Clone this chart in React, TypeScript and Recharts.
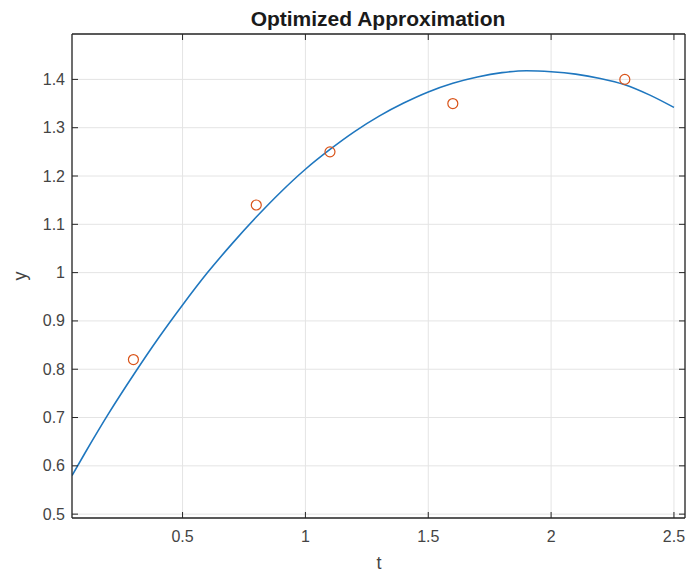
import { CartesianGrid, ComposedChart, Line, Scatter, XAxis, YAxis } from 'recharts';

// fitted curve
const curveT = [0.05, 0.1, 0.2, 0.3, 0.4, 0.5, 0.6, 0.7, 0.8, 0.9, 1.0, 1.1, 1.2, 1.3, 1.4, 1.5, 1.6, 1.7, 1.8, 1.9, 2.0, 2.1, 2.2, 2.3, 2.4, 2.5];
const curveY = [0.58, 0.624, 0.709, 0.788, 0.863, 0.933, 0.999, 1.059, 1.115, 1.167, 1.214, 1.255, 1.292, 1.324, 1.351, 1.374, 1.392, 1.405, 1.414, 1.418, 1.416, 1.411, 1.402, 1.389, 1.368, 1.342];

// measured samples
const sampleT = [0.3, 0.8, 1.1, 1.6, 2.3];
const sampleY = [0.82, 1.14, 1.25, 1.35, 1.4];

const xTicks = [0.5, 1, 1.5, 2, 2.5];
const yTicks = [0.5, 0.6, 0.7, 0.8, 0.9, 1, 1.1, 1.2, 1.3, 1.4];

const curveData = curveT.map((t, i) => ({ t, y: curveY[i] }));
const sampleData = sampleT.map((t, i) => ({ t, y: sampleY[i] }));

const FONT = '"Liberation Sans", Arial, sans-serif';
const AXIS = '#262626';
const LABEL = '#444';
const TICK_LEN = 6;

function BottomTick({ x, y, payload }: any) {
  return (
    <g>
      <line x1={x} x2={x} y1={y} y2={y - TICK_LEN} stroke={AXIS} />
      <text x={x} y={y + 24} textAnchor="middle" fontSize={16} fontFamily={FONT} fill={LABEL}>
        {payload.value}
      </text>
    </g>
  );
}

function TopTick({ x, y }: any) {
  return <line x1={x} x2={x} y1={y} y2={y + TICK_LEN} stroke={AXIS} />;
}

function LeftTick({ x, y, payload }: any) {
  return (
    <g>
      <line x1={x} x2={x + TICK_LEN} y1={y} y2={y} stroke={AXIS} />
      <text x={x - 7} y={y + 5.5} textAnchor="end" fontSize={16} fontFamily={FONT} fill={LABEL}>
        {payload.value}
      </text>
    </g>
  );
}

function RightTick({ x, y }: any) {
  return <line x1={x} x2={x - TICK_LEN} y1={y} y2={y} stroke={AXIS} />;
}

function Circle({ cx, cy }: any) {
  return <circle cx={cx} cy={cy} r={5} fill="none" stroke="#D95319" strokeWidth={1.2} />;
}

export default function App() {
  const xDomain = [0.05, 2.545];
  const yDomain = [0.492, 1.494];

  return (
    <div style={{ position: 'absolute', left: 0, top: 0, width: 691, height: 573, background: '#fff' }}>
      <ComposedChart width={691} height={573} margin={{ top: 0, right: 0, bottom: 0, left: 0 }}>
        <CartesianGrid stroke="#e4e4e4" strokeWidth={1} />
        <XAxis
          dataKey="t"
          type="number"
          domain={xDomain}
          ticks={xTicks}
          allowDataOverflow
          height={55}
          tickSize={0}
          tickMargin={0}
          tickLine={false}
          axisLine={{ stroke: AXIS, strokeWidth: 1.3 }}
          tick={<BottomTick />}
        />
        <XAxis
          xAxisId="top"
          orientation="top"
          dataKey="t"
          type="number"
          domain={xDomain}
          ticks={xTicks}
          allowDataOverflow
          height={34}
          tickSize={0}
          tickMargin={0}
          tickLine={false}
          axisLine={{ stroke: AXIS, strokeWidth: 1.3 }}
          tick={<TopTick />}
        />
        <YAxis
          type="number"
          domain={yDomain}
          ticks={yTicks}
          allowDataOverflow
          width={72}
          tickSize={0}
          tickMargin={0}
          tickLine={false}
          axisLine={{ stroke: AXIS, strokeWidth: 1.3 }}
          tick={<LeftTick />}
        />
        <YAxis
          yAxisId="r"
          orientation="right"
          type="number"
          domain={yDomain}
          ticks={yTicks}
          allowDataOverflow
          width={6}
          tickSize={0}
          tickMargin={0}
          tickLine={false}
          axisLine={{ stroke: AXIS, strokeWidth: 1.3 }}
          tick={<RightTick />}
        />
        <Line
          data={curveData}
          dataKey="y"
          type="monotone"
          stroke="#1f77bf"
          strokeWidth={1.6}
          dot={false}
          activeDot={false}
          isAnimationActive={false}
        />
        <Scatter data={sampleData} dataKey="y" shape={<Circle />} isAnimationActive={false} />
      </ComposedChart>
      <svg width={691} height={573} style={{ position: 'absolute', left: 0, top: 0, pointerEvents: 'none' }}>
        <text x={378} y={26} textAnchor="middle" fontSize={21} fontWeight="bold" fontFamily={FONT} fill="#1a1a1a">
          Optimized Approximation
        </text>
        <text x={379} y={569} textAnchor="middle" fontSize={18} fontFamily={FONT} fill={LABEL}>
          t
        </text>
        <text x={26} y={276} textAnchor="middle" fontSize={18} fontFamily={FONT} fill={LABEL} transform="rotate(-90 26 276)">
          y
        </text>
      </svg>
    </div>
  );
}
